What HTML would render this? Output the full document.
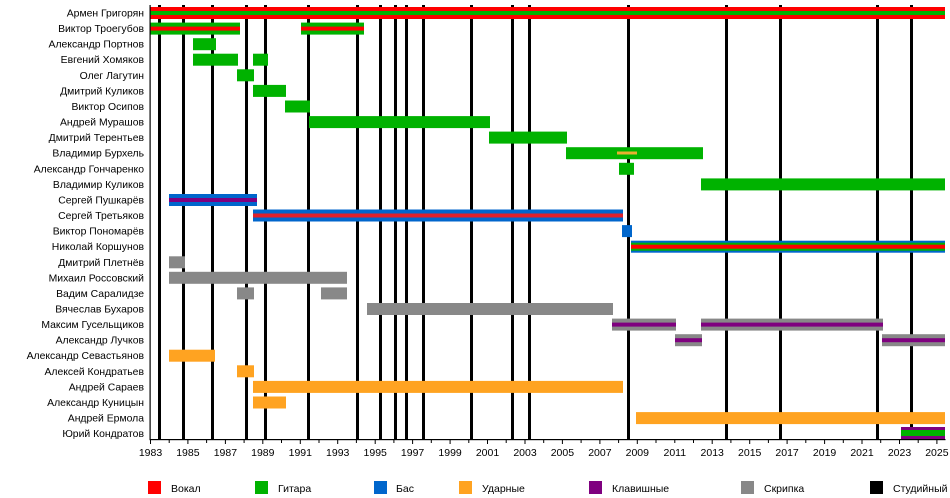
<!DOCTYPE html>
<html><head><meta charset="utf-8"><style>
html,body{margin:0;padding:0;background:#fff}
svg{display:block;font-family:"Liberation Sans",sans-serif}
</style></head><body>
<svg width="950" height="498" viewBox="0 0 950 498" xmlns="http://www.w3.org/2000/svg">
<g fill="#000">
<rect x="158" y="5" width="3" height="434"/><rect x="182" y="5" width="3" height="434"/><rect x="211" y="5" width="3" height="434"/><rect x="245" y="5" width="3" height="434"/><rect x="264" y="5" width="3" height="434"/><rect x="307" y="5" width="3" height="434"/><rect x="356" y="5" width="3" height="434"/><rect x="379" y="5" width="3" height="434"/><rect x="394" y="5" width="3" height="434"/><rect x="405" y="5" width="3" height="434"/><rect x="422" y="5" width="3" height="434"/><rect x="470" y="5" width="3" height="434"/><rect x="511" y="5" width="3" height="434"/><rect x="528" y="5" width="3" height="434"/><rect x="627" y="5" width="3" height="434"/><rect x="725" y="5" width="3" height="434"/><rect x="779" y="5" width="3" height="434"/><rect x="876" y="5" width="3" height="434"/><rect x="910" y="5" width="3" height="434"/>
</g>
<g>
<rect x="150" y="7" width="795" height="12" fill="#ff0000"/><rect x="150" y="11" width="795" height="4" fill="#00b200"/>
<rect x="150" y="22.6" width="90" height="12" fill="#00b200"/><rect x="150" y="26.6" width="90" height="4" fill="#ff0000"/>
<rect x="301" y="22.6" width="63" height="12" fill="#00b200"/><rect x="301" y="26.6" width="63" height="4" fill="#ff0000"/>
<rect x="193" y="38.2" width="23" height="12" fill="#00b200"/>
<rect x="193" y="53.7" width="45" height="12" fill="#00b200"/><rect x="253" y="53.7" width="15" height="12" fill="#00b200"/>
<rect x="237" y="69.3" width="17" height="12" fill="#00b200"/>
<rect x="253" y="84.9" width="33" height="12" fill="#00b200"/>
<rect x="285" y="100.5" width="25" height="12" fill="#00b200"/>
<rect x="309" y="116.1" width="181" height="12" fill="#00b200"/>
<rect x="489" y="131.6" width="78" height="12" fill="#00b200"/>
<rect x="566" y="147.2" width="137" height="12" fill="#00b200"/><rect x="617" y="151.5" width="20" height="3" fill="#e8b030"/>
<rect x="619" y="162.8" width="15" height="12" fill="#00b200"/>
<rect x="701" y="178.4" width="244" height="12" fill="#00b200"/>
<rect x="169" y="194" width="88" height="12" fill="#0066cc"/><rect x="169" y="198" width="88" height="4" fill="#7f007f"/>
<rect x="253" y="209.5" width="370" height="12" fill="#0066cc"/><rect x="253" y="213.5" width="370" height="4" fill="#e0202a"/>
<rect x="622" y="225.1" width="10" height="12" fill="#0066cc"/>
<rect x="631" y="240.7" width="314" height="12" fill="#0066cc"/><rect x="631" y="242.7" width="314" height="8" fill="#00b200"/><rect x="631" y="244.7" width="314" height="4" fill="#ff0000"/>
<rect x="169" y="256.3" width="16" height="12" fill="#888"/>
<rect x="169" y="271.8" width="178" height="12" fill="#888"/>
<rect x="237" y="287.4" width="17" height="12" fill="#888"/><rect x="321" y="287.4" width="26" height="12" fill="#888"/>
<rect x="367" y="303" width="246" height="12" fill="#888"/>
<rect x="612" y="318.6" width="64" height="12" fill="#888"/><rect x="612" y="322.6" width="64" height="4" fill="#7f007f"/>
<rect x="701" y="318.6" width="182" height="12" fill="#888"/><rect x="701" y="322.6" width="182" height="4" fill="#7f007f"/>
<rect x="675" y="334.2" width="27" height="12" fill="#888"/><rect x="675" y="338.2" width="27" height="4" fill="#7f007f"/>
<rect x="882" y="334.2" width="63" height="12" fill="#888"/><rect x="882" y="338.2" width="63" height="4" fill="#7f007f"/>
<rect x="169" y="349.7" width="46" height="12" fill="#ffa321"/>
<rect x="237" y="365.3" width="17" height="12" fill="#ffa321"/>
<rect x="253" y="380.9" width="370" height="12" fill="#ffa321"/>
<rect x="253" y="396.5" width="33" height="12" fill="#ffa321"/>
<rect x="636" y="412.1" width="309" height="12" fill="#ffa321"/>
<rect x="901" y="427" width="44" height="12" fill="#7f007f"/><rect x="901" y="430" width="44" height="6" fill="#00b200"/>
</g>
<rect x="149.5" y="5" width="1.2" height="435" fill="#000"/>
<rect x="149.5" y="439" width="796" height="1.2" fill="#000"/>
<g stroke="#000" stroke-width="1">
<path d="M150.5 440v4M169.2 440v3M187.9 440v4M206.6 440v3M225.4 440v4M244.1 440v3M262.8 440v4M281.5 440v3M300.3 440v4M319 440v3M337.7 440v4M356.4 440v3M375.2 440v4M393.9 440v3M412.6 440v4M431.3 440v3M450.1 440v4M468.8 440v3M487.5 440v4M506.2 440v3M525 440v4M543.7 440v3M562.4 440v4M581.1 440v3M599.9 440v4M618.6 440v3M637.3 440v4M656 440v3M674.8 440v3M693.5 440v3M712.2 440v4M730.9 440v3M749.7 440v4M768.4 440v3M787.1 440v4M805.8 440v3M824.6 440v4M843.3 440v3M862 440v4M880.7 440v3M899.5 440v4M918.2 440v3M936.9 440v4"/>
</g>
<g font-size="10.5" text-anchor="middle" fill="#000">
<text x="150.5" y="456">1983</text><text x="187.9" y="456">1985</text><text x="225.4" y="456">1987</text><text x="262.8" y="456">1989</text><text x="300.3" y="456">1991</text><text x="337.7" y="456">1993</text><text x="375.2" y="456">1995</text><text x="412.6" y="456">1997</text><text x="450.1" y="456">1999</text><text x="487.5" y="456">2001</text><text x="525" y="456">2003</text><text x="562.4" y="456">2005</text><text x="599.9" y="456">2007</text><text x="637.3" y="456">2009</text><text x="674.8" y="456">2011</text><text x="712.2" y="456">2013</text><text x="749.7" y="456">2015</text><text x="787.1" y="456">2017</text><text x="824.6" y="456">2019</text><text x="862" y="456">2021</text><text x="899.5" y="456">2023</text><text x="936.9" y="456">2025</text>
</g>
<g font-size="10.4" text-anchor="end" fill="#000">
<text x="144" y="16.5">Армен Григорян</text>
<text x="144" y="32.1">Виктор Троегубов</text>
<text x="144" y="47.7">Александр Портнов</text>
<text x="144" y="63.2">Евгений Хомяков</text>
<text x="144" y="78.8">Олег Лагутин</text>
<text x="144" y="94.4">Дмитрий Куликов</text>
<text x="144" y="110">Виктор Осипов</text>
<text x="144" y="125.6">Андрей Мурашов</text>
<text x="144" y="141.1">Дмитрий Терентьев</text>
<text x="144" y="156.7">Владимир Бурхель</text>
<text x="144" y="172.3">Александр Гончаренко</text>
<text x="144" y="187.9">Владимир Куликов</text>
<text x="144" y="203.5">Сергей Пушкарёв</text>
<text x="144" y="219">Сергей Третьяков</text>
<text x="144" y="234.6">Виктор Пономарёв</text>
<text x="144" y="250.2">Николай Коршунов</text>
<text x="144" y="265.8">Дмитрий Плетнёв</text>
<text x="144" y="281.3">Михаил Россовский</text>
<text x="144" y="296.9">Вадим Саралидзе</text>
<text x="144" y="312.5">Вячеслав Бухаров</text>
<text x="144" y="328.1">Максим Гусельщиков</text>
<text x="144" y="343.7">Александр Лучков</text>
<text x="144" y="359.2">Александр Севастьянов</text>
<text x="144" y="374.8">Алексей Кондратьев</text>
<text x="144" y="390.4">Андрей Сараев</text>
<text x="144" y="406">Александр Куницын</text>
<text x="144" y="421.6">Андрей Ермола</text>
<text x="144" y="437.1">Юрий Кондратов</text>
</g>
<g font-size="10.5" fill="#000">
<rect x="148" y="481" width="13" height="13" fill="#ff0000"/><text x="171" y="492">Вокал</text>
<rect x="255" y="481" width="13" height="13" fill="#00b200"/><text x="278" y="492">Гитара</text>
<rect x="374" y="481" width="13" height="13" fill="#0066cc"/><text x="396" y="492">Бас</text>
<rect x="459" y="481" width="13" height="13" fill="#ffa321"/><text x="482" y="492">Ударные</text>
<rect x="589" y="481" width="13" height="13" fill="#7f007f"/><text x="612" y="492">Клавишные</text>
<rect x="741" y="481" width="13" height="13" fill="#888"/><text x="764" y="492">Скрипка</text>
<rect x="870" y="481" width="13" height="13" fill="#000"/><text x="893" y="492">Студийный</text>
</g>
</svg>
</body></html>
